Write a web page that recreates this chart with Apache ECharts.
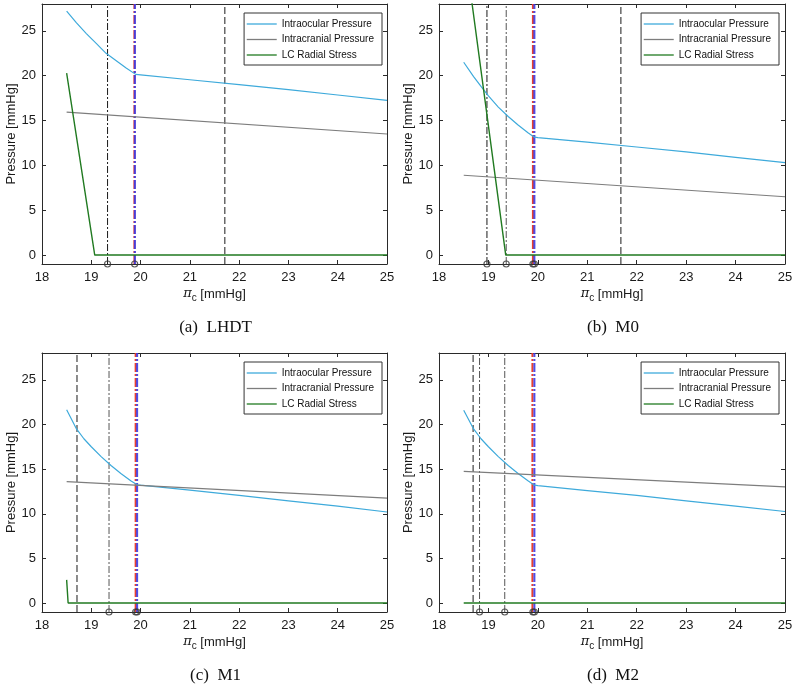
<!DOCTYPE html>
<html><head><meta charset="utf-8">
<script src="https://cdn.jsdelivr.net/npm/echarts@6/dist/echarts.min.js"></script>
<style>html,body{margin:0;padding:0;background:#fff}#c{width:796px;height:688px}</style>
</head><body><div id="c"></div>
<script>
// ---- data ----
const xTicks = [18, 19, 20, 21, 22, 23, 24, 25];
const yTicks = [0, 5, 10, 15, 20, 25];
const seriesNames = ['Intraocular Pressure', 'Intracranial Pressure', 'LC Radial Stress'];
const panelTitles = ['(a)  LHDT', '(b)  M0', '(c)  M1', '(d)  M2'];

// (a) LHDT
const iopA = [[18.5,27.2],[18.7,25.9],[18.9,24.7],[19.1,23.6],[19.3,22.5],[19.5,21.7],[19.7,20.9],[19.9,20.15],[20,20.1],[21,19.55],[22,19.0],[23,18.45],[24,17.85],[25,17.25]];
const icpA = [[18.5,15.95],[25,13.5]];
const lcA = [[18.5,20.3],[19.07,0],[25,0]];
const dashA = [21.71];
const dashDotA = [19.33];
const redA = [19.875];
const blueA = [19.885];
const circA = [19.33, 19.88];

// (b) M0
const iopB = [[18.5,21.5],[18.7,19.9],[18.85,18.8],[19.0,17.75],[19.2,16.5],[19.4,15.45],[19.6,14.5],[19.8,13.65],[19.93,13.15],[20,13.1],[21,12.6],[22,12.05],[23,11.5],[24,10.9],[25,10.3]];
const icpB = [[18.5,8.9],[25,6.5]];
const lcB = [[18.5,35],[19.35,0],[25,0]];
const dashB = [21.68];
const dashDotB = [18.97, 19.36];
const redB = [19.90];
const blueB = [19.93];
const circB = [18.97, 19.36, 19.90, 19.93];

// (c) M1
const iopC = [[18.5,21.65],[18.7,19.5],[18.85,18.4],[19.0,17.5],[19.2,16.4],[19.4,15.4],[19.6,14.5],[19.8,13.7],[19.93,13.25],[20,13.2],[21,12.65],[22,12.05],[23,11.45],[24,10.85],[25,10.2]];
const icpC = [[18.5,13.6],[25,11.75]];
const lcC = [[18.5,2.6],[18.53,0],[25,0]];
const dashC = [18.71];
const dashDotC = [19.36];
const redC = [19.90];
const blueC = [19.93];
const circC = [19.36, 19.90, 19.93];

// (d) M2
const iopD = [[18.5,21.6],[18.7,19.5],[18.85,18.4],[19.0,17.5],[19.2,16.4],[19.4,15.4],[19.6,14.5],[19.8,13.7],[19.93,13.2],[20,13.15],[21,12.6],[22,12.05],[23,11.45],[24,10.85],[25,10.25]];
const icpD = [[18.5,14.75],[25,13.0]];
const lcD = [[18.5,0],[25,0]];
const dashD = [18.69];
const dashDotD = [18.82, 19.33];
const redD = [19.89];
const blueD = [19.93];
const circD = [18.82, 19.33, 19.90, 19.93];

const panels = [
  {iop: iopA, icp: icpA, lc: lcA, dash: dashA, dashDot: dashDotA, red: redA, blue: blueA, circ: circA},
  {iop: iopB, icp: icpB, lc: lcB, dash: dashB, dashDot: dashDotB, red: redB, blue: blueB, circ: circB},
  {iop: iopC, icp: icpC, lc: lcC, dash: dashC, dashDot: dashDotC, red: redC, blue: blueC, circ: circC},
  {iop: iopD, icp: icpD, lc: lcD, dash: dashD, dashDot: dashDotD, red: redD, blue: blueD, circ: circD}
];

// ---- layout / styles ----
const Y_MIN = -1, Y_MAX = 28;
const grids = [
  {left: 42, top: 4, width: 345, height: 260},
  {left: 439, top: 4, width: 346, height: 260},
  {left: 42, top: 353, width: 345, height: 259},
  {left: 439, top: 353, width: 346, height: 259}
];
const AX = '#2a2a2a';
const colIOP = '#3eaadb', colICP = '#7d7d7d', colLC = '#217a21';
const dashDotColors = ['#1a1a1a', '#555555'];

const option = {
  animation: false,
  backgroundColor: '#fff',
  grid: grids,
  xAxis: [], yAxis: [], series: [], legend: [], title: []
};

grids.forEach((g, i) => {
  const xi = option.xAxis.length, yi = option.yAxis.length;
  option.xAxis.push({
    type: 'value', gridIndex: i, min: 18, max: 25, interval: 1, position: 'bottom',
    axisLine: {show: true, onZero: false, lineStyle: {color: AX, width: 1}},
    axisTick: {inside: true, length: 4, lineStyle: {color: AX}},
    axisLabel: {margin: 7, color: '#1a1a1a', fontSize: 13, fontFamily: 'Liberation Sans, Arial, sans-serif',
      customValues: xTicks},
    splitLine: {show: false},
    name: '{pi|π}{sub|c} [mmHg]', nameLocation: 'middle', nameGap: 21,
    nameTextStyle: {color: '#1a1a1a', fontSize: 13, fontFamily: 'Liberation Sans, Arial, sans-serif',
      rich: {
        pi: {fontFamily: 'DejaVu Serif, serif', fontStyle: 'italic', fontSize: 13, color: '#1a1a1a'},
        sub: {fontSize: 10, padding: [8, 0, 0, 0], color: '#1a1a1a', fontFamily: 'Liberation Sans, Arial, sans-serif'}
      }}
  });
  option.xAxis.push({
    type: 'value', gridIndex: i, min: 18, max: 25, interval: 1, position: 'top',
    axisLine: {show: true, onZero: false, lineStyle: {color: AX, width: 1}},
    axisTick: {inside: true, length: 4, lineStyle: {color: AX}},
    axisLabel: {show: false}, splitLine: {show: false}
  });
  option.yAxis.push({
    type: 'value', gridIndex: i, min: Y_MIN, max: Y_MAX, position: 'left',
    axisLine: {show: true, onZero: false, lineStyle: {color: AX, width: 1}},
    axisTick: {inside: true, length: 4, lineStyle: {color: AX}, customValues: yTicks},
    axisLabel: {margin: 6, color: '#1a1a1a', fontSize: 13, fontFamily: 'Liberation Sans, Arial, sans-serif',
      customValues: yTicks},
    splitLine: {show: false},
    name: 'Pressure [mmHg]', nameLocation: 'middle', nameGap: 23,
    nameTextStyle: {color: '#1a1a1a', fontSize: 13, fontFamily: 'Liberation Sans, Arial, sans-serif'}
  });
  option.yAxis.push({
    type: 'value', gridIndex: i, min: Y_MIN, max: Y_MAX, position: 'right',
    axisLine: {show: true, onZero: false, lineStyle: {color: AX, width: 1}},
    axisTick: {inside: true, length: 4, lineStyle: {color: AX}, customValues: yTicks},
    axisLabel: {show: false}, splitLine: {show: false}
  });

  const p = panels[i];
  const base = {type: 'line', xAxisIndex: xi, yAxisIndex: yi, symbol: 'none', clip: true, silent: true};
  const vline = (x) => [[x, Y_MIN], [x, Y_MAX]];

  p.dashDot.forEach((x, k) => option.series.push(Object.assign({}, base, {
    data: vline(x), lineStyle: {color: dashDotColors[k === p.dashDot.length - 1 && p.dashDot.length > 1 ? 1 : (i === 0 || i === 1 ? 0 : 1)], width: 1, type: [7, 2, 2, 2]}, z: 1
  })));
  p.dash.forEach(x => option.series.push(Object.assign({}, base, {
    data: vline(x), lineStyle: {color: '#1a1a1a', width: 1, type: [7, 3]}, z: 1
  })));
  p.red.forEach(x => option.series.push(Object.assign({}, base, {
    data: vline(x), lineStyle: {color: '#e8412f', width: 2, type: [9, 2, 2, 2]}, z: 1
  })));
  p.blue.forEach(x => option.series.push(Object.assign({}, base, {
    data: vline(x), lineStyle: {color: '#3a3ae6', width: 2, type: [9, 2, 2, 2], opacity: 0.9}, z: 1
  })));

  option.series.push(Object.assign({}, base, {name: seriesNames[0], data: p.iop, lineStyle: {color: colIOP, width: 1.2}, itemStyle: {color: colIOP}, z: 3}));
  option.series.push(Object.assign({}, base, {name: seriesNames[1], data: p.icp, lineStyle: {color: colICP, width: 1.2}, itemStyle: {color: colICP}, z: 3}));
  option.series.push(Object.assign({}, base, {name: seriesNames[2], data: p.lc, lineStyle: {color: colLC, width: 1.4}, itemStyle: {color: colLC}, z: 3}));

  option.series.push({
    type: 'scatter', xAxisIndex: xi, yAxisIndex: yi, clip: false, silent: true,
    data: p.circ.map(x => [x, Y_MIN]), symbol: 'circle', symbolSize: 6,
    itemStyle: {color: 'rgba(255,255,255,0)', borderColor: '#333', borderWidth: 1.2}, z: 5
  });

  option.legend.push({
    data: seriesNames, orient: 'vertical',
    right: 796 - (g.left + 340), top: g.top + 9,
    itemWidth: 30, itemHeight: 12, itemGap: 5.5, padding: [6, 8, 5, 2],
    borderColor: '#333', borderWidth: 1, backgroundColor: '#fff',
    selectedMode: false,
    itemStyle: {opacity: 0},
    lineStyle: {width: 1.3},
    textStyle: {fontSize: 10, color: '#111', fontFamily: 'Liberation Sans Narrow, Liberation Sans, Arial, sans-serif'}
  });

  option.title.push({
    text: panelTitles[i], left: g.left + g.width / 2 - 4, top: g.top + g.height + 50, textAlign: 'center',
    textStyle: {fontFamily: 'Liberation Serif, DejaVu Serif, serif', fontWeight: 'normal', fontSize: 17, color: '#111'}
  });
});

const chart = echarts.init(document.getElementById('c'), null, {renderer: 'canvas'});
chart.setOption(option);
</script></body></html>
